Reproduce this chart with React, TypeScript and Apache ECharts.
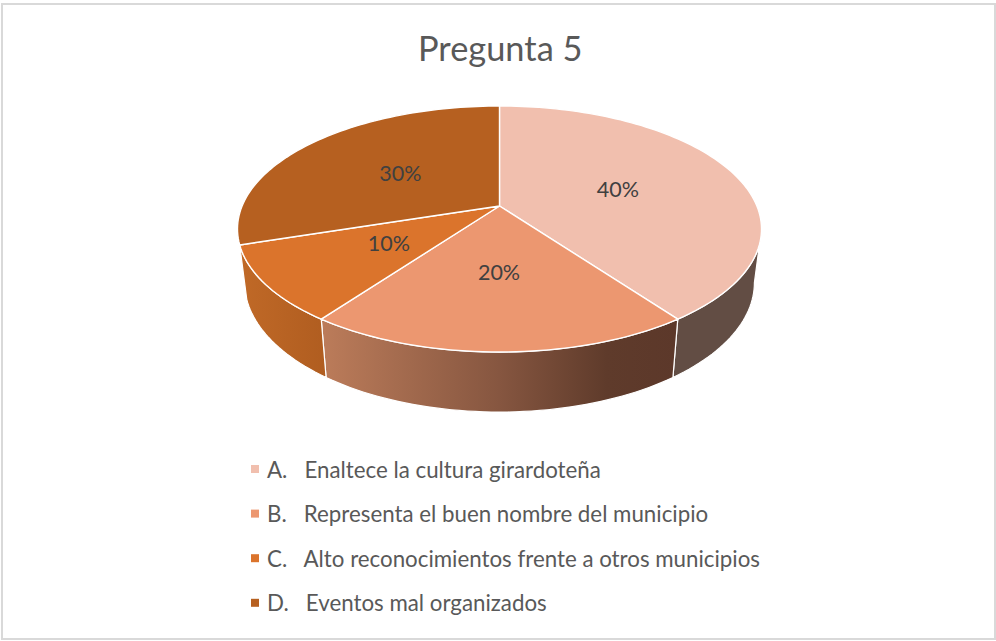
import React, { useEffect, useRef } from "react";
import * as echarts from "echarts";

const chartTitle = "Pregunta 5";
const categories = [
  "A.   Enaltece la cultura girardoteña",
  "B.   Representa el buen nombre del municipio",
  "C.   Alto reconocimientos frente a otros municipios",
  "D.   Eventos mal organizados",
];
const values = [40, 20, 10, 30];
const valueLabels = ["40%", "20%", "10%", "30%"];

const FONT = "Lato, 'Open Sans', sans-serif";
const topColors = ["#F1BFAE", "#EC9770", "#DB742C", "#B66020"];
const wallFills: any[] = [
  "#624D44",
  {
    type: "linear", x: 0, y: 0, x2: 1, y2: 0,
    colorStops: [
      { offset: 0, color: "#BC7C5A" },
      { offset: 0.5, color: "#865640" },
      { offset: 0.8, color: "#5F3B2B" },
      { offset: 1, color: "#5C382A" },
    ],
  },
  {
    type: "linear", x: 0, y: 0, x2: 1, y2: 0,
    colorStops: [
      { offset: 0, color: "#C06927" },
      { offset: 1, color: "#B05D20" },
    ],
  },
  null,
];

// Perspective projection of the unit disc onto the page
const CX = 499.5;
const C = -0.187;
const topPlane = { R: 257.4, y0: 206, a: 80.2 };
const basePlane = { R: 250.4, y0: 258.4, a: 76.6 };
const FRONT_FROM = 100.8;
const FRONT_TO = 252;

function project(plane: any, deg: number, r = 1): number[] {
  const t = (deg * Math.PI) / 180;
  const u = Math.sin(t) * r;
  const v = -Math.cos(t) * r;
  const d = 1 + C * v;
  return [CX + (plane.R * u) / d, (plane.y0 + plane.a * v) / d];
}

function arc(plane: any, from: number, to: number): number[][] {
  const n = Math.max(2, Math.ceil(Math.abs(to - from) / 1.5));
  const pts: number[][] = [];
  for (let i = 0; i <= n; i++) pts.push(project(plane, from + ((to - from) * i) / n));
  return pts;
}

const total = values.reduce((a, b) => a + b, 0);

function renderSlice(idx: number) {
  return (_params: any, api: any) => {
    const before = values.slice(0, idx).reduce((a, b) => a + b, 0);
    const start = (before / total) * 360;
    const end = ((before + api.value(0)) / total) * 360;
    const children: any[] = [];
    const wFrom = Math.max(start, FRONT_FROM);
    const wTo = Math.min(end, FRONT_TO);
    if (wallFills[idx] && wTo > wFrom) {
      children.push({
        type: "polygon",
        z2: 1,
        shape: { points: [...arc(topPlane, wFrom, wTo), ...arc(basePlane, wTo, wFrom)] },
        style: { fill: wallFills[idx], stroke: "#FFFFFF", lineWidth: 1.2, lineJoin: "round" },
      });
    }
    children.push({
      type: "polygon",
      z2: 10,
      shape: { points: [project(topPlane, 0, 0), ...arc(topPlane, start, end)] },
      style: { fill: topColors[idx], stroke: "#FFFFFF", lineWidth: 1.4, lineJoin: "round" },
    });
    const [lx, ly] = project(topPlane, (start + end) / 2, 0.5);
    children.push({
      type: "text",
      z2: 20,
      style: {
        text: valueLabels[idx],
        x: lx - 0.5,
        y: ly + 0.5,
        align: "center",
        verticalAlign: "middle",
        fill: "#404040",
        font: `400 21.5px ${FONT}`,
      },
    });
    return { type: "group", children };
  };
}

export default function App() {
  const ref = useRef<HTMLDivElement>(null);
  useEffect(() => {
    const chart = echarts.init(ref.current!, null, { renderer: "svg" });
    chart.setOption({
      animation: false,
      backgroundColor: "#FFFFFF",
      title: {
        text: chartTitle,
        left: 413,
        top: 25,
        textStyle: { color: "#595959", fontFamily: FONT, fontSize: 34.4, fontWeight: 400 },
      },
      legend: {
        orient: "vertical",
        left: 246,
        top: 453,
        itemWidth: 8,
        itemHeight: 8,
        itemGap: 22.6,
        icon: "rect",
        data: categories,
        textStyle: { color: "#595959", fontFamily: FONT, fontSize: 22.3, padding: [0, 0, 0, 3] },
        selectedMode: false,
      },
      graphic: [
        {
          type: "rect",
          shape: { x: 2, y: 4, width: 993, height: 635 },
          style: { fill: "none", stroke: "#D9D9D9", lineWidth: 2 },
          silent: true,
        },
      ],
      series: categories.map((name, i) => ({
        type: "custom",
        name,
        coordinateSystem: "none",
        silent: true,
        itemStyle: { color: topColors[i] },
        renderItem: renderSlice(i),
        data: [[values[i]]],
      })),
    });
    return () => chart.dispose();
  }, []);
  return (
    <div
      ref={ref}
      style={{ position: "absolute", left: 0, top: 0, width: 996, height: 641 }}
    />
  );
}
